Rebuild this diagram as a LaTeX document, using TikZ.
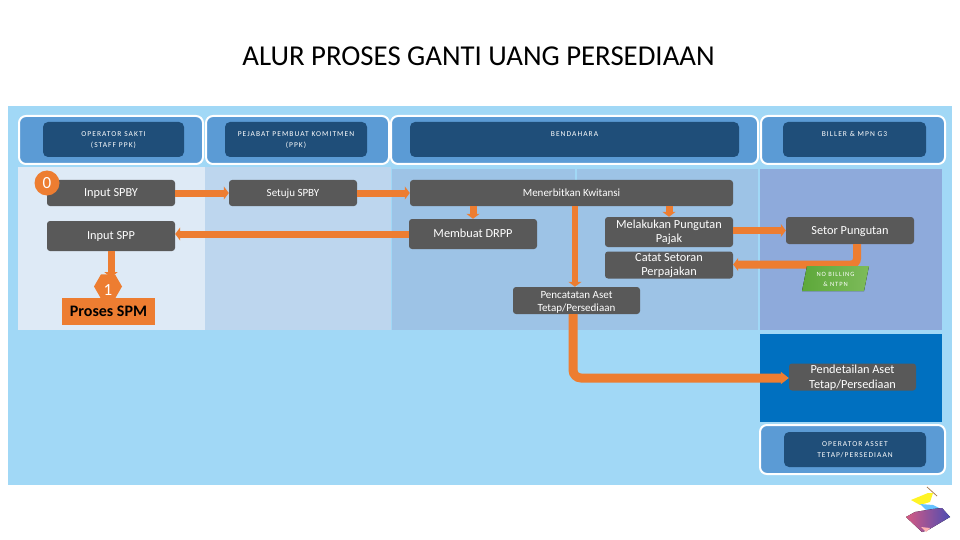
\documentclass[tikz,border=0pt]{standalone}
\usepackage{fontspec}
\setmainfont{Carlito}
\usetikzlibrary{arrows.meta,shapes.geometric}
\newfontfamily\spaced[LetterSpace=14]{Carlito}
\newcommand{\tx}[2]{\raisebox{-#1pt}[0pt][0pt]{\begin{tabular}{@{}c@{}}#2\end{tabular}}}
\definecolor{panel}{HTML}{A1D8F6}
\definecolor{headb}{HTML}{5B9BD5}
\definecolor{headd}{HTML}{1F4E79}
\definecolor{grayb}{HTML}{595959}
\definecolor{orng}{HTML}{ED7D31}
\definecolor{laneA}{HTML}{DEEAF6}
\definecolor{laneB}{HTML}{BDD6EE}
\definecolor{laneC}{HTML}{9DC3E6}
\definecolor{laneD}{HTML}{8EAADB}
\definecolor{laneE}{HTML}{0070C0}
\definecolor{billa}{HTML}{5DA83A}
\definecolor{billb}{HTML}{7DBB5A}
\tikzset{
  hout/.style={draw=white,line width=2pt,fill=headb,rounded corners=7pt},
  hin/.style={draw=none,fill=headd,rounded corners=5pt,text=white,font=\spaced\fontsize{7.5}{11}\selectfont,anchor=center,inner sep=0pt},
  stepbox/.style={fill=grayb,rounded corners=3pt,text=white,inner sep=0pt,font=\fontsize{12.3}{14.5}\selectfont},
  stepsmall/.style={stepbox,font=\fontsize{11}{13.5}\selectfont},
  flow/.style={draw=orng,line width=7pt,-{Triangle[width=13pt,length=5pt]}}
}
\begin{document}
\begin{tikzpicture}[x=1pt,y=-1pt]
\useasboundingbox (0,0) rectangle (960,540);
\fill[white] (0,0) rectangle (960,540);
\node[font=\fontsize{28.8}{32}\selectfont,text=black,inner sep=0pt] (title) at (478.5,56) {ALUR PROSES GANTI UANG PERSEDIAAN};
\fill[panel] (8,106) rectangle (952,485);
% lanes
\fill[laneA] (18,167) rectangle (205,330);
\fill[laneB] (205,167) rectangle (391,330);
\fill[laneC] (392,169) rectangle (575,330);
\fill[laneC] (576.5,169) rectangle (758,330);
\fill[laneD] (760,169) rectangle (942,330);
\fill[laneE] (760,334) rectangle (942,422);
% headers
\draw[hout] (19,116) rectangle (203,164);
\draw[hout] (206,116) rectangle (389,164);
\draw[hout] (391,116) rectangle (758,164);
\draw[hout] (761,116) rectangle (945,164);
\draw[hout] (760,425) rectangle (945,474);
\node[hin,minimum width=141pt,minimum height=35pt] (h1) at (113.5,139.5) {\tx{2.1}{OPERATOR SAKTI\\(STAFF PPK)}};
\node[hin,minimum width=142pt,minimum height=35pt] (h2) at (296,139.5) {\tx{2.1}{PEJABAT PEMBUAT KOMITMEN\\(PPK)}};
\node[hin,minimum width=329pt,minimum height=35pt] (h3) at (574.5,139.5) {\tx{-3.4}{BENDAHARA}};
\node[hin,minimum width=143pt,minimum height=35pt] (h4) at (854.5,139.5) {\tx{-3.4}{BILLER \& MPN G3}};
\node[hin,minimum width=142pt,minimum height=35pt] (h5) at (855,449.5) {\tx{2.1}{OPERATOR ASSET\\TETAP/PERSEDIAAN}};
% steps
\node[stepbox,minimum width=128pt,minimum height=26pt] (spby) at (111,193) {\tx{3.6}{Input SPBY}};
\node[stepbox,minimum width=128pt,minimum height=30pt] (spp) at (111,236) {\tx{3.6}{Input SPP}};
\node[stepsmall,minimum width=128pt,minimum height=26pt] (setuju) at (293,193) {\tx{3.3}{Setuju SPBY}};
\node[stepsmall,minimum width=323pt,minimum height=26pt] (kw) at (571.5,193) {\tx{3.3}{Menerbitkan Kwitansi}};
\node[stepbox,minimum width=128pt,minimum height=30pt] (drpp) at (473,234) {\tx{3.6}{Membuat DRPP}};
\node[stepbox,minimum width=128pt,minimum height=30pt] (pungut) at (669,232) {\tx{3.6}{Melakukan Pungutan\\Pajak}};
\node[stepbox,minimum width=128pt,minimum height=27pt] (catat) at (669,265) {\tx{3.6}{Catat Setoran\\Perpajakan}};
\node[stepsmall,minimum width=127pt,minimum height=27pt] (aset) at (576.5,300.5) {\tx{4.3}{Pencatatan Aset\\Tetap/Persediaan}};
\node[stepbox,minimum width=128pt,minimum height=27pt] (setor) at (850,230.5) {\tx{3.6}{Setor Pungutan}};
\node[stepbox,minimum width=127pt,minimum height=27pt] (detail) at (852.5,377) {\tx{4}{Pendetailan Aset\\Tetap/Persediaan}};
% connectors
\draw[flow] (spby.east) -- (setuju.west);
\draw[flow] (setuju.east) -- (kw.west);
\draw[flow] (drpp.west) -- (drpp.west -| spp.east);
\draw[flow] (spp.south) -- ++(0,26);
\draw[flow] (kw.south -| drpp.north) -- (drpp.north);
\draw[flow] (kw.south -| pungut.north) -- (pungut.north);
\coordinate (asetin) at (575,250);
\draw[flow,line width=6.5pt] (kw.south -| asetin) -- (aset.north -| asetin);
\draw[flow] (pungut.east |- setor.west) -- (setor.west);
\coordinate (bend1) at (857,264.5);
\draw[flow,rounded corners=6pt,line width=8pt] (setor.south -| bend1) -- (bend1) -- (bend1 -| catat.east);
\coordinate (bend2) at (573,378);
\draw[draw=orng,rounded corners=8pt,line width=9pt,-{Triangle[width=12pt,length=8pt]}] (aset.south -| bend2) -- (bend2) -- (bend2 -| detail.west);
% no billing
\fill[left color=billa,right color=billb] (802,291) -- (807,266) -- (869,266) -- (864,291) -- cycle;
\node[text=white,inner sep=0pt,font=\spaced\fontsize{6.5}{10}\selectfont] (bill) at (835.5,279) {\tx{1.8}{NO BILLING\\\& NTPN}};
% spm
\node[fill=orng,minimum width=93pt,minimum height=27pt,inner sep=0pt,font=\fontsize{16}{18}\selectfont\bfseries,text=black] (spm) at (108.5,311) {Proses SPM};
\node[regular polygon,regular polygon sides=6,fill=orng,minimum size=28pt,inner sep=0pt,text=white,font=\fontsize{17}{19}\selectfont] (hex) at (108,286.5) {\raisebox{-8.5pt}[0pt][0pt]{1}};
\node[circle,fill=orng,minimum size=25pt,inner sep=0pt,text=white,font=\fontsize{17}{19}\selectfont] (zero) at (47,183) {0};
% logo
\draw[brown!70!gray,line width=.8pt] (927,487) -- (937,496);
\fill[yellow!85!white] (911,500) -- (928,493) -- (933,493) -- (930,502) -- (920,505) -- cycle;
\fill[blue!40!cyan!60!white] (920,504) -- (933,505) -- (943,510) -- (928,512) -- cycle;
\fill[left color=purple!65!white,right color=blue!40!gray] (906,517) -- (915,512) -- (933,509) -- (942,508) -- (950,517) -- (928,530) -- (922,532) -- cycle;
\fill[red!30!white] (921,527) -- (930,528) -- (926,532) -- cycle;
\end{tikzpicture}
\end{document}
